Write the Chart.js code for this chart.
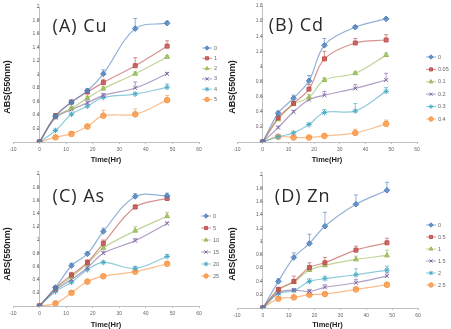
<!DOCTYPE html>
<html lang="en">
<head>
<meta charset="UTF-8">
<title>ABS(550nm) vs Time - Cu, Cd, As, Zn</title>
<script src="https://cdn.jsdelivr.net/npm/chart.js"></script>
<style>
  html, body { margin: 0; padding: 0; background: #fff; }
  body { width: 451px; height: 329px; position: relative; overflow: hidden; }
  canvas { position: absolute; }
</style>
</head>
<body>
<canvas id="cuChart" width="225" height="164" style="left:0;top:0"></canvas>
<canvas id="cdChart" width="226" height="164" style="left:225px;top:0"></canvas>
<canvas id="asChart" width="225" height="165" style="left:0;top:164px"></canvas>
<canvas id="znChart" width="226" height="165" style="left:225px;top:164px"></canvas>

<script>
// sampling times (hours)
const timeHr = [0, 6, 12, 18, 24, 36, 48];

// (A) Cu
const cuConc = ['0', '1', '2', '3', '4', '5'];
const cuAbs = [
  [0, 0.38, 0.59, 0.76, 1.01, 1.68, 1.76],
  [0, 0.39, 0.59, 0.74, 0.88, 1.13, 1.42],
  [0, 0.37, 0.50, 0.65, 0.79, 1.01, 1.26],
  [0, 0.36, 0.48, 0.58, 0.69, 0.80, 1.01],
  [0, 0.17, 0.41, 0.53, 0.66, 0.71, 0.81],
  [0, 0.07, 0.12, 0.23, 0.39, 0.41, 0.62]
];
const cuErr = [
  [0, 0.03, 0.03, 0.03, 0.06, 0.15, 0.03],
  [0, 0.03, 0.03, 0.03, 0.05, 0.12, 0.08],
  [0, 0.02, 0.03, 0.03, 0.03, 0.03, 0.02],
  [0, 0.02, 0.02, 0.03, 0.03, 0.09, 0.02],
  [0, 0.02, 0.02, 0.02, 0.02, 0.02, 0.05],
  [0, 0.02, 0.03, 0.02, 0.08, 0.08, 0.07]
];

// (B) Cd
const cdConc = ['0', '0.05', '0.1', '0.2', '0.3', '0.4'];
const cdAbs = [
  [0, 0.38, 0.58, 0.81, 1.28, 1.52, 1.63],
  [0, 0.32, 0.51, 0.70, 1.10, 1.31, 1.35],
  [0, 0.30, 0.50, 0.59, 0.82, 0.91, 1.15],
  [0, 0.19, 0.40, 0.56, 0.62, 0.71, 0.82],
  [0, 0.07, 0.12, 0.23, 0.39, 0.41, 0.67],
  [0, 0.07, 0.06, 0.06, 0.08, 0.12, 0.24]
];
const cdErr = [
  [0, 0.03, 0.04, 0.07, 0.09, 0.02, 0.01],
  [0, 0.03, 0.03, 0.06, 0.10, 0.06, 0.07],
  [0, 0.02, 0.02, 0.04, 0.03, 0.02, 0.03],
  [0, 0.02, 0.02, 0.03, 0.05, 0.05, 0.09],
  [0, 0.01, 0.01, 0.02, 0.04, 0.10, 0.05],
  [0, 0.01, 0.01, 0.01, 0.03, 0.05, 0.05]
];

// (C) As
const asConc = ['0', '5', '10', '15', '20', '25'];
const asAbs = [
  [0, 0.28, 0.61, 0.79, 1.13, 1.66, 1.67],
  [0, 0.27, 0.47, 0.66, 0.95, 1.50, 1.63],
  [0, 0.26, 0.44, 0.64, 0.88, 1.14, 1.36],
  [0, 0.24, 0.40, 0.58, 0.80, 0.99, 1.25],
  [0, 0.22, 0.36, 0.55, 0.66, 0.57, 0.75],
  [0, 0.04, 0.20, 0.37, 0.45, 0.52, 0.64]
];
const asErr = [
  [0, 0.02, 0.04, 0.03, 0.05, 0.04, 0.04],
  [0, 0.02, 0.04, 0.04, 0.05, 0.03, 0.02],
  [0, 0.02, 0.03, 0.04, 0.04, 0.06, 0.06],
  [0, 0.02, 0.02, 0.03, 0.03, 0.03, 0.02],
  [0, 0.02, 0.02, 0.02, 0.02, 0.03, 0.03],
  [0, 0.02, 0.02, 0.02, 0.02, 0.02, 0.03]
];

// (D) Zn
const znConc = ['0', '0.5', '1', '1.5', '2', '2.5'];
const znAbs = [
  [0, 0.40, 0.76, 0.97, 1.23, 1.56, 1.77],
  [0, 0.28, 0.40, 0.61, 0.68, 0.87, 0.98],
  [0, 0.27, 0.39, 0.57, 0.64, 0.73, 0.79],
  [0, 0.23, 0.27, 0.25, 0.31, 0.38, 0.48],
  [0, 0.22, 0.26, 0.40, 0.44, 0.50, 0.57],
  [0, 0.14, 0.16, 0.20, 0.21, 0.28, 0.35]
];
const znErr = [
  [0, 0.04, 0.07, 0.14, 0.21, 0.14, 0.12],
  [0, 0.03, 0.08, 0.07, 0.08, 0.06, 0.07],
  [0, 0.03, 0.04, 0.05, 0.05, 0.05, 0.08],
  [0, 0.02, 0.02, 0.03, 0.04, 0.05, 0.05],
  [0, 0.02, 0.02, 0.04, 0.04, 0.09, 0.06],
  [0, 0.02, 0.02, 0.02, 0.02, 0.02, 0.03]
];

// excel-ish series styling
const seriesColors = ['#4F81BD', '#C0504D', '#9BBB59', '#8064A2', '#4BACC6', '#F79646'];
const markerStyles = ['rectRot', 'rect', 'triangle', 'crossRot', 'star', 'circle'];

const tickFont = { family: 'Liberation Sans', size: 5 };
const axisGray = '#c0c0c0';

// upper error bars, read from each dataset's errUp array
const errorBars = {
  id: 'errorBars',
  beforeDatasetsDraw(chart) {
    const { ctx, scales: { x, y } } = chart;
    chart.data.datasets.forEach(ds => {
      ctx.save();
      ctx.strokeStyle = ds.borderColor;
      ctx.lineWidth = 1;
      ds.data.forEach((p, j) => {
        const e = ds.errUp[j];
        if (!e) return;
        const px = x.getPixelForValue(p.x);
        const py = y.getPixelForValue(p.y);
        const pt = y.getPixelForValue(p.y + e);
        ctx.beginPath();
        ctx.moveTo(px, py);
        ctx.lineTo(px, pt);
        ctx.moveTo(px - 2, pt);
        ctx.lineTo(px + 2, pt);
        ctx.stroke();
      });
      ctx.restore();
    });
  }
};

// panel label, y title, legend on the right
const panelDecor = {
  id: 'panelDecor',
  afterDraw(chart, args, o) {
    const { ctx, scales: { x }, chartArea } = chart;
    ctx.save();
    ctx.textBaseline = 'middle';

    ctx.fillStyle = '#2a2a2a';
    ctx.font = '18px "Open Sans"';
    ctx.letterSpacing = '1px';
    ctx.fillText(o.title, x.getPixelForValue(0) + o.titleDx, chartArea.top + o.titleDy);
    ctx.letterSpacing = '0px';

    ctx.save();
    ctx.translate(8, o.yTitleY);
    ctx.rotate(-Math.PI / 2);
    ctx.textAlign = 'center';
    ctx.fillStyle = '#222';
    ctx.font = 'bold 9px "Liberation Sans"';
    ctx.fillText('ABS(550nm)', 0, 0);
    ctx.restore();

    ctx.font = '5.5px "Liberation Sans"';
    chart.data.datasets.forEach((ds, i) => {
      const ly = o.legY + i * o.legGap;
      ctx.strokeStyle = ds.borderColor;
      ctx.lineWidth = 1;
      ctx.beginPath();
      ctx.moveTo(o.legX - 5, ly);
      ctx.lineTo(o.legX + 5, ly);
      ctx.stroke();
      ctx.fillStyle = ds.pointBackgroundColor;
      ctx.strokeStyle = ds.pointBorderColor;
      Chart.helpers.drawPoint(ctx, { pointStyle: ds.pointStyle, radius: 2.2, borderWidth: 1, rotation: 0 }, o.legX, ly);
      ctx.fillStyle = '#666';
      ctx.fillText(ds.label, o.legX + 7, ly);
    });
    ctx.restore();
  }
};

function makePanel(id, conc, abs, err, o) {
  const datasets = conc.map((c, i) => ({
    label: c,
    data: timeHr.map((t, j) => ({ x: t, y: abs[i][j] })),
    errUp: err[i],
    borderColor: seriesColors[i] + 'A0',
    borderWidth: 1.2,
    tension: 0.35,
    pointStyle: markerStyles[i],
    pointRadius: 2.8,
    pointBorderWidth: 1,
    pointBackgroundColor: seriesColors[i] + 'C8',
    pointBorderColor: seriesColors[i],
    fill: false
  }));

  new Chart(document.getElementById(id), {
    type: 'line',
    data: { datasets },
    options: {
      responsive: false,
      animation: false,
      layout: { padding: { top: o.top, right: o.right, left: o.left, bottom: 0 } },
      plugins: {
        legend: { display: false },
        tooltip: { enabled: false },
        panelDecor: o
      },
      scales: {
        x: {
          type: 'linear', min: -10, max: 60, position: 'bottom',
          ticks: { stepSize: 10, font: tickFont, color: '#666', padding: 3, autoSkip: false, maxRotation: 0 },
          grid: { drawOnChartArea: false, tickLength: 2, color: axisGray },
          border: { color: axisGray },
          title: { display: true, text: 'Time(Hr)', color: '#222', font: { family: 'Liberation Sans', size: 7.5, weight: 'bold' }, padding: { top: 6, bottom: 0 } },
          afterFit(s) { s.height = o.bottomH; }
        },
        y: {
          // axis crosses at x = 0; count instead of stepSize so the short
          // first layout pass does not thin the ticks out
          type: 'linear', min: 0, max: o.yMax, position: { x: 0 },
          ticks: {
            count: Math.round(o.yMax / 0.2) + 1,
            autoSkip: false,
            font: tickFont, color: '#666', padding: 2,
            callback: v => String(+v.toFixed(1))
          },
          grid: { drawOnChartArea: false, tickLength: 2, color: axisGray },
          border: { color: axisGray }
        }
      }
    },
    plugins: [errorBars, panelDecor]
  });
}

makePanel('cuChart', cuConc, cuAbs, cuErr, {
  yMax: 2, left: 13, right: 26, top: 7, bottomH: 22, yTitleY: 87,
  title: '(A) Cu', titleDx: 13, titleDy: 20,
  legX: 207, legY: 48, legGap: 10.3
});
makePanel('cdChart', cdConc, cdAbs, cdErr, {
  yMax: 1.8, left: 12, right: 34, top: 6, bottomH: 22, yTitleY: 87,
  title: '(B) Cd', titleDx: 6, titleDy: 20,
  legX: 206, legY: 57, legGap: 12.4
});
makePanel('asChart', asConc, asAbs, asErr, {
  yMax: 2, left: 13, right: 26, top: 10, bottomH: 23, yTitleY: 90,
  title: '(C) As', titleDx: 13, titleDy: 23,
  legX: 206, legY: 52, legGap: 12
});
makePanel('znChart', znConc, znAbs, znErr, {
  yMax: 2, left: 12, right: 33, top: 11, bottomH: 21, yTitleY: 90,
  title: '(D) Zn', titleDx: 12, titleDy: 22,
  legX: 206, legY: 61, legGap: 12
});
</script>
</body>
</html>
